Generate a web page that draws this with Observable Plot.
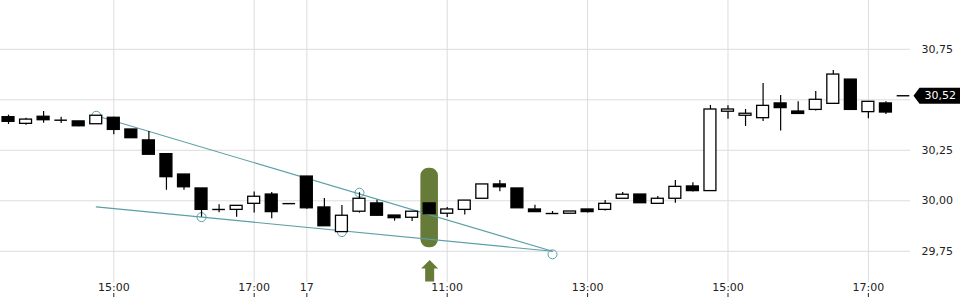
<!DOCTYPE html>
<html>
<head>
<meta charset="utf-8">
<script src="https://cdn.jsdelivr.net/npm/d3@7"></script>
<script src="https://cdn.jsdelivr.net/npm/@observablehq/plot@0.6"></script>
<style>
  html, body { margin: 0; padding: 0; background: #fff; }
  #chart svg { display: block; }
</style>
</head>
<body>
<div id="chart"></div>
<script>
// 15-minute candles, index 0 = 13:30 (day 1) ... 51 = 17:30 (day 2)
const opens  = [30.414,30.381,30.416,30.399,30.393,30.379,30.411,30.353,30.299,30.231,
                30.130,30.061,29.957,29.955,29.985,30.031,29.986,30.120,29.967,29.845,
                29.946,29.987,29.927,29.916,29.987,29.936,29.955,30.010,30.081,30.061,
                29.957,29.937,29.936,29.957,29.955,30.010,30.031,29.985,30.010,30.071,
                30.048,30.441,30.421,30.409,30.482,30.442,30.450,30.480,30.600,30.439,
                30.482,30.520];
const highs  = [30.424,30.409,30.442,30.414,30.393,30.421,30.414,30.353,30.343,30.231,
                30.130,30.061,29.980,29.975,30.043,30.041,29.986,30.120,30.011,29.977,
                30.040,30.003,29.927,29.946,29.987,29.967,30.001,30.081,30.100,30.061,
                29.978,29.947,29.947,29.957,30.001,30.041,30.031,30.021,30.100,30.089,
                30.472,30.470,30.452,30.581,30.521,30.490,30.541,30.645,30.600,30.490,
                30.490,30.520];
const lows   = [30.378,30.374,30.384,30.383,30.366,30.379,30.327,30.310,30.228,30.052,
                30.052,29.919,29.941,29.919,29.939,29.911,29.986,29.958,29.874,29.845,
                29.939,29.926,29.899,29.898,29.934,29.917,29.930,30.010,30.045,29.963,
                29.942,29.932,29.936,29.939,29.950,30.010,29.988,29.985,29.988,30.043,
                30.048,30.404,30.368,30.393,30.345,30.430,30.444,30.480,30.450,30.406,
                30.427,30.520];
const closes = [30.391,30.402,30.399,30.399,30.369,30.421,30.351,30.310,30.228,30.117,
                30.067,29.955,29.957,29.975,30.020,29.944,29.986,29.963,29.874,29.926,
                30.010,29.926,29.914,29.946,29.934,29.957,30.001,30.081,30.067,29.963,
                29.944,29.937,29.947,29.944,29.985,30.030,29.988,30.010,30.069,30.048,
                30.452,30.452,30.431,30.470,30.459,30.430,30.500,30.625,30.450,30.490,
                30.437,30.520];

// x axis ticks (candle index) and labels
const xTickIdx    = [6, 14, 17, 25, 33, 41, 49];
const xTickLabels = ["15:00", "17:00", "17", "11:00", "13:00", "15:00", "17:00"];

// y axis
const yGrid       = [29.75, 30.00, 30.25, 30.50, 30.75];
const yTickLabels = [29.75, 30.00, 30.25, 30.75];
const lastPrice   = 30.52;

// wedge drawing (index, price)
const upperLine = [{i: 5, v: 30.421}, {i: 31, v: 29.750}];
const lowerLine = [{i: 5, v: 29.970}, {i: 31, v: 29.750}];
const anchors   = [{i: 5, v: 30.421}, {i: 11, v: 29.919}, {i: 19, v: 29.845}, {i: 20, v: 30.040}, {i: 31, v: 29.735}];

// highlighted candle (signal)
const signalIdx   = [24];
const signalRange = [29.767, 30.161];

const candles = opens.map((o, i) => ({i, o, h: highs[i], l: lows[i], c: closes[i]}));
const half = 0.34;
const teal = "#5a9fa6";
const green = "#677b38";
const fmt = d => d.toFixed(2).replace(".", ",");

const arrowSymbol = {
  draw(ctx) {
    ctx.moveTo(0, -11);
    ctx.lineTo(8.5, -2.5);
    ctx.lineTo(4.5, -2.5);
    ctx.lineTo(4.5, 10.5);
    ctx.lineTo(-4.5, 10.5);
    ctx.lineTo(-4.5, -2.5);
    ctx.lineTo(-8.5, -2.5);
    ctx.closePath();
  }
};
const priceTag = {
  draw(ctx) {
    ctx.moveTo(3, 0);
    ctx.lineTo(9, -8);
    ctx.lineTo(52, -8);
    ctx.lineTo(52, 8);
    ctx.lineTo(9, 8);
    ctx.closePath();
  }
};

const chart = Plot.plot({
  width: 960,
  height: 300,
  marginLeft: 0,
  marginRight: 50,
  marginTop: 0,
  marginBottom: 18,
  style: {fontFamily: "DejaVu Sans, sans-serif", fontSize: "11px", color: "#222", background: "#fff"},
  x: {domain: [-0.456, 51.4], label: null},
  y: {domain: [29.5955, 30.9916], label: null},
  marks: [
    Plot.ruleY(yGrid, {stroke: "#dcdcdc", strokeWidth: 1}),
    Plot.ruleX(xTickIdx, {stroke: "#dcdcdc", strokeWidth: 1}),
    Plot.rect(signalIdx, {x1: d => d - 0.5, x2: d => d + 0.5, y1: () => signalRange[0], y2: () => signalRange[1], fill: green, rx: 8, ry: 8}),
    Plot.line(upperLine, {x: "i", y: "v", stroke: teal, strokeWidth: 1.1}),
    Plot.line(lowerLine, {x: "i", y: "v", stroke: teal, strokeWidth: 1.1}),
    Plot.dot(anchors, {x: "i", y: "v", r: 4.5, stroke: teal, strokeWidth: 1, fill: "none"}),
    Plot.ruleX(candles, {filter: d => d.h !== d.l && !(d.o === d.c && d.h === d.l), x: "i", y1: "l", y2: "h", stroke: "#000", strokeWidth: 1.2}),
    Plot.rect(candles, {filter: d => d.c < d.o, x1: d => d.i - half, x2: d => d.i + half, y1: "o", y2: "c", fill: "#000", stroke: "#000", strokeWidth: 1.3}),
    Plot.rect(candles, {filter: d => d.c > d.o, x1: d => d.i - half, x2: d => d.i + half, y1: "o", y2: "c", fill: "#fff", stroke: "#000", strokeWidth: 1.3}),
    Plot.ruleY(candles, {filter: d => d.c === d.o, y: "c", x1: d => d.i - 0.36, x2: d => d.i + 0.36, stroke: "#000", strokeWidth: 1.4}),
    Plot.dot(signalIdx, {x: d => d, frameAnchor: "bottom", dy: -11.5, symbol: arrowSymbol, fill: green, stroke: "none"}),
    Plot.axisX({ticks: xTickIdx, tickFormat: d => xTickLabels[xTickIdx.indexOf(d)], tickSize: 0, tickPadding: 1, fontSize: 11, label: null}),
    Plot.axisX({ticks: xTickIdx, tickFormat: () => "", tickSize: 4, dy: 11, fill: "none", stroke: "#222", label: null}),
    Plot.axisY({ticks: yTickLabels, tickFormat: fmt, anchor: "right", tickSize: 0, tickPadding: 11, fontSize: 11, label: null}),
    Plot.dot([lastPrice], {y: d => d, frameAnchor: "right", symbol: priceTag, fill: "#000", stroke: "none"}),
    Plot.text([lastPrice], {y: d => d, frameAnchor: "right", dx: 14, textAnchor: "start", text: fmt, fill: "#fff", fontSize: 11})
  ]
});
document.getElementById("chart").appendChild(chart);
</script>
</body>
</html>
